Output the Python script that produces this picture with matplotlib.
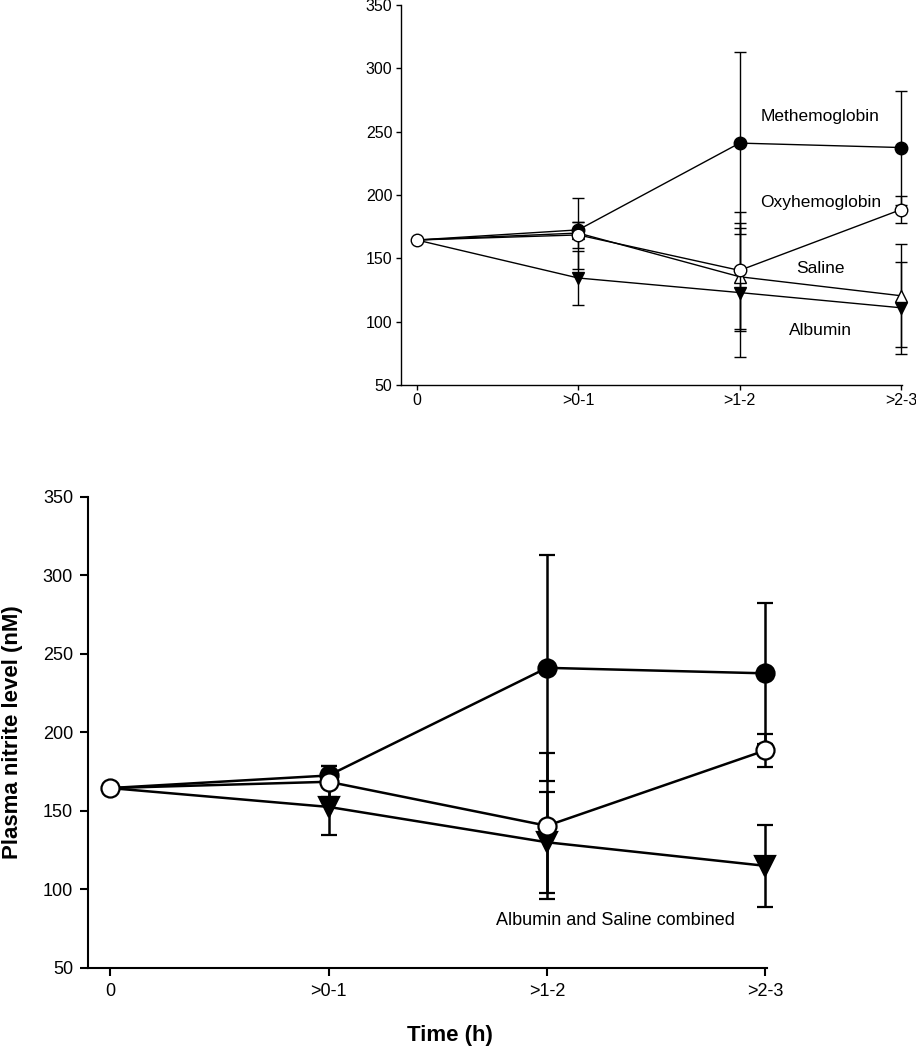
import matplotlib
matplotlib.use("Agg")
import matplotlib.pyplot as plt
import numpy as np

plt.rcParams['font.family'] = ['Liberation Sans', 'DejaVu Sans']

# time bins
time_labels = ['0', '>0-1', '>1-2', '>2-3']

# top panel: mean and SD per group (nM)
met = [164.5, 172.5, 241, 237.5]
met_err = [0, 6, 72, 45]
oxy = [164.5, 168.5, 140.5, 188.5]
oxy_err = [0, 10, 46.5, 10.5]
saline = [164.5, 170, 135.5, 120.5]
saline_err = [0, 28, 42.5, 40.5]
albumin = [164.5, 134.5, 123, 111]
albumin_err = [0, 21, 51, 36.5]

# bottom panel: albumin + saline pooled
combined = [164.5, 152.5, 130, 115]
combined_err = [0, 18, 32, 26]

# label positions (x in bin index, y in nM)
top_labels = ['Methemoglobin', 'Oxyhemoglobin', 'Saline', 'Albumin']
top_label_y = [262, 194, 142, 93]

x = np.arange(len(time_labels))
# baseline point is shared, only the open circle shows there
after_baseline = list(range(1, len(time_labels)))

fig = plt.figure(figsize=(9.16, 10.5), dpi=100)


def style_axes(ax, fs, tick_len, pad, lw):
    ax.spines['top'].set_visible(False)
    ax.spines['right'].set_visible(False)
    for s in ('left', 'bottom'):
        ax.spines[s].set_linewidth(lw)
    ax.set_ylim(50, 350)
    ax.set_yticks(np.arange(50, 351, 50))
    ax.set_xlim(-0.1, 3.005)
    ax.set_xticks(x)
    ax.set_xticklabels(time_labels)
    ax.tick_params(direction='out', length=tick_len, width=lw, labelsize=fs, pad=pad)


# ---- top panel ----
ax1 = fig.add_axes([0.4375, 0.6333, 0.547, 0.3619])
style_axes(ax1, 11.5, 3.5, 2.5, 1.0)

kw = dict(color='black', ecolor='black', elinewidth=1.0, capthick=1.0, capsize=4.5,
          lw=1.0, markeredgecolor='black', markeredgewidth=1.0, clip_on=False)
ax1.errorbar(x, albumin, yerr=albumin_err, fmt='-v', ms=8, markerfacecolor='black',
             markevery=after_baseline, zorder=3, **kw)
ax1.errorbar(x, saline, yerr=saline_err, fmt='-^', ms=8, markerfacecolor='white',
             markevery=after_baseline, zorder=4, **kw)
ax1.errorbar(x, met, yerr=met_err, fmt='-o', ms=9, markerfacecolor='black',
             markevery=after_baseline, zorder=5, **kw)
ax1.errorbar(x, oxy, yerr=oxy_err, fmt='-o', ms=9, markerfacecolor='white', zorder=6, **kw)

for name, yy in zip(top_labels, top_label_y):
    ax1.text(2.5, yy, name, ha='center', va='center', fontsize=12.5)

# ---- bottom panel ----
ax2 = fig.add_axes([0.0964, 0.0781, 0.7404, 0.449])
style_axes(ax2, 13, 6, 5, 1.5)

kw2 = dict(color='black', ecolor='black', elinewidth=1.8, capthick=1.8, capsize=6,
           lw=1.8, markeredgecolor='black', markeredgewidth=1.6, clip_on=False)
ax2.errorbar(x, combined, yerr=combined_err, fmt='-v', ms=14, markerfacecolor='black',
             markevery=after_baseline, zorder=3, **kw2)
ax2.errorbar(x, met, yerr=met_err, fmt='-o', ms=13, markerfacecolor='black',
             markevery=after_baseline, zorder=4, **kw2)
ax2.errorbar(x, oxy, yerr=oxy_err, fmt='-o', ms=13, markerfacecolor='white', zorder=5, **kw2)

ax2.text(2.315, 80, 'Albumin and Saline combined', ha='center', va='center', fontsize=13)
ax2.set_ylabel('Plasma nitrite level (nM)', fontsize=16, fontweight='bold', labelpad=14)
fig.text(450 / 916, 1 - 1036 / 1050, 'Time (h)', ha='center', va='center',
         fontsize=16, fontweight='bold')

plt.savefig('out.png', dpi=100)
